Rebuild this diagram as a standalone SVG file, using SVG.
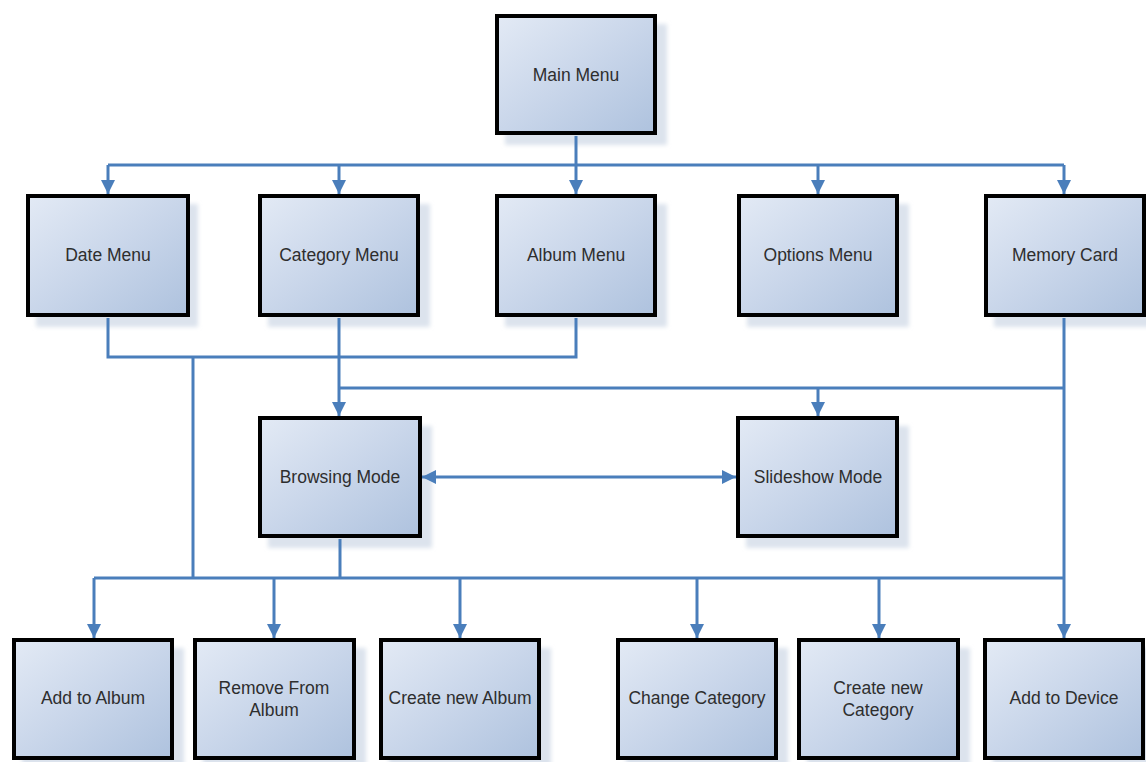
<svg xmlns="http://www.w3.org/2000/svg" width="1146" height="762" viewBox="0 0 1146 762">
<defs>
<linearGradient id="fill" x1="0" y1="0" x2="1" y2="1">
<stop offset="0" stop-color="#e3eaf5"/>
<stop offset="0.5" stop-color="#c9d6ea"/>
<stop offset="1" stop-color="#aec2de"/>
</linearGradient>
<filter id="blur" x="-10%" y="-10%" width="120%" height="120%"><feGaussianBlur stdDeviation="2"/></filter>
<marker id="arr" viewBox="0 0 14 14" refX="14" refY="7" markerWidth="14" markerHeight="14" markerUnits="userSpaceOnUse" orient="auto-start-reverse">
<path d="M0,0 L14,7 L0,14 z" fill="#4a7ebb"/>
</marker>
</defs>
<style>
.box{fill:url(#fill);stroke:#000;stroke-width:4}
.sh{fill:#dce3ed;filter:url(#blur)}
.t{font-family:"Liberation Sans",Arial,sans-serif;font-size:17.5px;fill:#2e2e2e;text-anchor:middle;dominant-baseline:central}
.c{fill:none;stroke:#4a7ebb;stroke-width:3}
</style>
<rect width="1146" height="762" fill="#fff"/>

<g id="main-menu"><rect class="sh" x="505" y="24" width="162" height="121"/><rect class="box" x="497" y="16" width="158" height="117"/><text class="t" x="576" y="75">Main Menu</text></g>

<g id="date-menu"><rect class="sh" x="36" y="204" width="162" height="123"/><rect class="box" x="28" y="196" width="160" height="119"/><text class="t" x="108" y="255">Date Menu</text></g>
<g id="category-menu"><rect class="sh" x="268" y="204" width="162" height="123"/><rect class="box" x="260" y="196" width="158" height="119"/><text class="t" x="339" y="255">Category Menu</text></g>
<g id="album-menu"><rect class="sh" x="505" y="204" width="162" height="123"/><rect class="box" x="497" y="196" width="158" height="119"/><text class="t" x="576" y="255">Album Menu</text></g>
<g id="options-menu"><rect class="sh" x="747" y="204" width="162" height="123"/><rect class="box" x="739" y="196" width="158" height="119"/><text class="t" x="818" y="255">Options Menu</text></g>
<g id="memory-card"><rect class="sh" x="994" y="204" width="162" height="123"/><rect class="box" x="986" y="196" width="158" height="119"/><text class="t" x="1065" y="255">Memory Card</text></g>

<g id="browsing-mode"><rect class="sh" x="268" y="426" width="164" height="122"/><rect class="box" x="260" y="418" width="160" height="118"/><text class="t" x="340" y="477">Browsing Mode</text></g>
<g id="slideshow-mode"><rect class="sh" x="746" y="426" width="163" height="122"/><rect class="box" x="738" y="418" width="159" height="118"/><text class="t" x="818" y="477">Slideshow Mode</text></g>

<g id="add-to-album"><rect class="sh" x="22" y="648" width="162" height="122"/><rect class="box" x="14" y="640" width="158" height="118"/><text class="t" x="93" y="698">Add to Album</text></g>
<g id="remove-from-album"><rect class="sh" x="203" y="648" width="163" height="122"/><rect class="box" x="195" y="640" width="159" height="118"/><text class="t" x="274" y="688">Remove From</text><text class="t" x="274" y="710">Album</text></g>
<g id="create-new-album"><rect class="sh" x="389" y="648" width="162" height="122"/><rect class="box" x="381" y="640" width="158" height="118"/><text class="t" x="460" y="698">Create new Album</text></g>
<g id="change-category"><rect class="sh" x="626" y="648" width="162" height="122"/><rect class="box" x="618" y="640" width="158" height="118"/><text class="t" x="697" y="698">Change Category</text></g>
<g id="create-new-category"><rect class="sh" x="807" y="648" width="163" height="122"/><rect class="box" x="799" y="640" width="159" height="118"/><text class="t" x="878" y="688">Create new</text><text class="t" x="878" y="710">Category</text></g>
<g id="add-to-device"><rect class="sh" x="993" y="648" width="162" height="122"/><rect class="box" x="985" y="640" width="158" height="118"/><text class="t" x="1064" y="698">Add to Device</text></g>

<g id="connectors">
<path class="c" d="M576,136 V165"/>
<path class="c" d="M108,165 H1064"/>
<path class="c" d="M108,165 V194" marker-end="url(#arr)"/>
<path class="c" d="M339,165 V194" marker-end="url(#arr)"/>
<path class="c" d="M576,165 V194" marker-end="url(#arr)"/>
<path class="c" d="M818,165 V194" marker-end="url(#arr)"/>
<path class="c" d="M1064,165 V194" marker-end="url(#arr)"/>
<path class="c" d="M108,318 V357 H576 V318"/>
<path class="c" d="M339,318 V416" marker-end="url(#arr)"/>
<path class="c" d="M193,357 V578"/>
<path class="c" d="M339,388 H1064"/>
<path class="c" d="M818,388 V416" marker-end="url(#arr)"/>
<path class="c" d="M1064,318 V638" marker-end="url(#arr)"/>
<path class="c" d="M422,477 H736" marker-start="url(#arr)" marker-end="url(#arr)"/>
<path class="c" d="M340,539 V578"/>
<path class="c" d="M94,578 H1064"/>
<path class="c" d="M94,578 V638" marker-end="url(#arr)"/>
<path class="c" d="M274,578 V638" marker-end="url(#arr)"/>
<path class="c" d="M460,578 V638" marker-end="url(#arr)"/>
<path class="c" d="M697,578 V638" marker-end="url(#arr)"/>
<path class="c" d="M879,578 V638" marker-end="url(#arr)"/>
</g>
</svg>
